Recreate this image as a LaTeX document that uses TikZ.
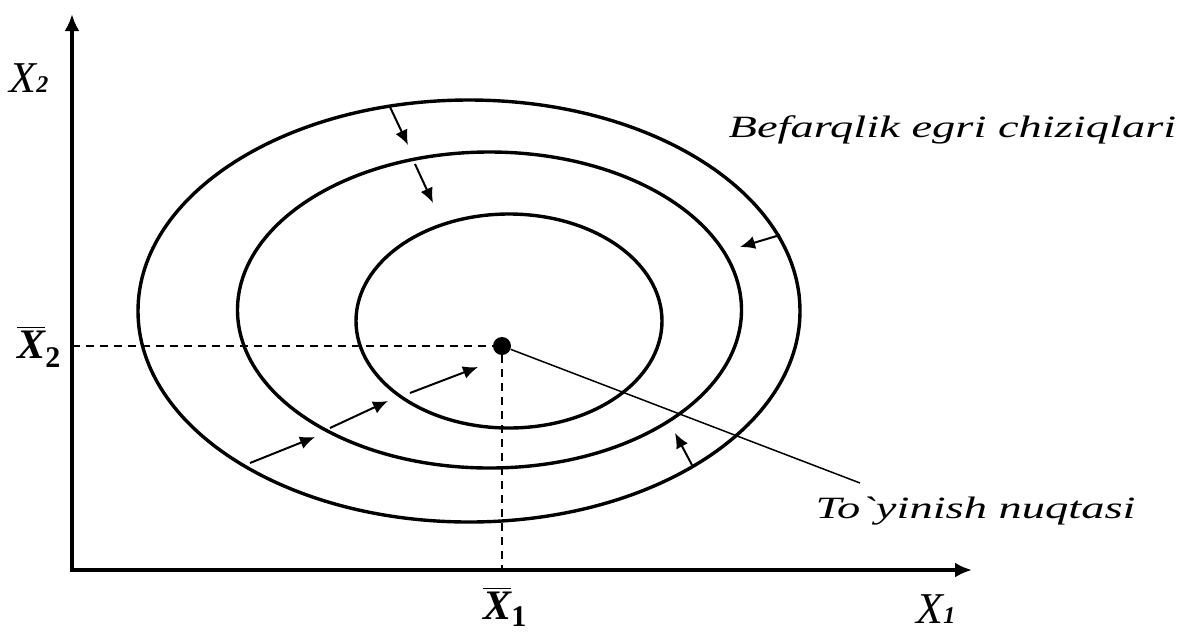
\documentclass[tikz,border=0pt]{standalone}
\usepackage{fontspec}
\setmainfont{Liberation Serif}
\usetikzlibrary{arrows.meta,positioning}

\begin{document}
\begin{tikzpicture}[x=0.5pt, y=-0.5pt,
  every node/.style={font=\fontsize{15.5}{17}\selectfont\itshape},
  axis/.style={line width=2pt, {Latex[length=8.5pt,width=7.5pt]}-{Latex[length=8.5pt,width=7.5pt]}},
  curve/.style={line width=1.7pt},
  move/.style={line width=1pt, -{Latex[length=7.5pt,width=6.5pt]}},
  guide/.style={line width=1pt, dash pattern=on 4pt off 3pt},
  txt/.style={inner sep=0pt, anchor=base west},
  wide/.style={txt, xscale=1.5}]
  \useasboundingbox (0,0) rectangle (1178,634);
  % axes
  \coordinate (ytip) at (72,14);
  \coordinate (O) at (72,570);
  \coordinate (xtip) at (972,570);
  \draw[axis] (ytip) -- (O) -- (xtip);
  \node[txt] (x2) at (9,92) {\fontsize{22}{22}\selectfont X\fontsize{12}{12}\selectfont\bfseries 2};
  \node[txt] (x1) at (916,623) {\fontsize{22}{22}\selectfont X\fontsize{12}{12}\selectfont\bfseries 1};
  % indifference curves
  \draw[curve] (469,311) ellipse [x radius=165.5pt, y radius=105.5pt];
  \draw[curve] (489.5,310) ellipse [x radius=126pt, y radius=79pt];
  \draw[curve] (509,321) ellipse [x radius=76.5pt, y radius=53.5pt];
  % saturation point and its projections
  \node[circle, fill, inner sep=0pt, minimum size=9pt] (sat) at (502,346) {};
  \coordinate (x2bar) at (72,346);
  \coordinate (x1bar) at (502,570);
  \draw[guide] (x2bar) -- (sat);
  \draw[guide] (sat) -- (x1bar);
  \node[txt] (x2lab) at (17,358) {\fontsize{21}{21}\selectfont\bfseries$\overline{\hbox{X}}$\raisebox{-4.5pt}{\fontsize{15}{15}\selectfont\upshape 2}};
  \node[txt] (x1lab) at (483,619) {\fontsize{21}{21}\selectfont\bfseries$\overline{\hbox{X}}$\raisebox{-3.5pt}{\fontsize{15}{15}\selectfont\upshape 1}};
  % labels
  \node[wide] (curves) at (728,137) {Befarqlik egri chiziqlari};
  \node[wide] (point) at (815,518) {To\textasciigrave yinish nuqtasi};
  \coordinate (pointend) at (860,483);
  \draw[line width=0.75pt] (sat) -- (pointend);
  % movement towards the saturation point
  \foreach \a/\b in {{(390,107)}/{(408,145)}, {(415,164)}/{(433,203)},
      {(780,235)}/{(740,247)}, {(692,465)}/{(675,433)},
      {(250,463)}/{(315,437)}, {(330,428)}/{(388,401)}, {(410,393)}/{(478,367)}}
    \draw[move] \a -- \b;
\end{tikzpicture}
\end{document}
